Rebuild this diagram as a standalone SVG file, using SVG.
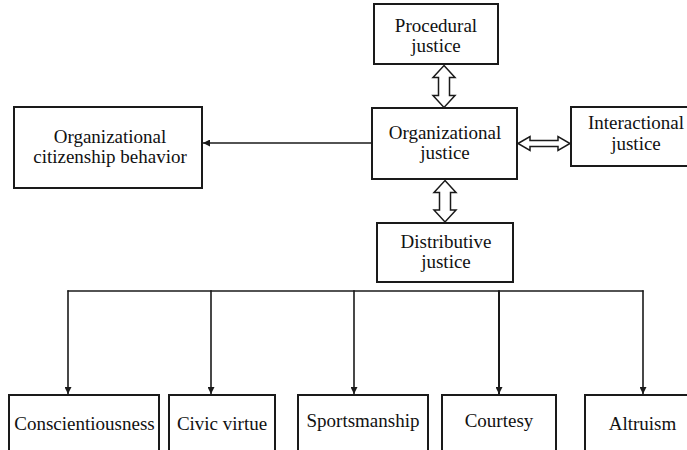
<svg xmlns="http://www.w3.org/2000/svg" width="687" height="450" viewBox="0 0 687 450">
<style>
.box{fill:#fff;stroke:#1a1a1a;stroke-width:2}
.t{font-family:"Liberation Serif","Times New Roman",serif;font-size:19px;fill:#111;text-anchor:middle}
.ln{fill:none;stroke:#1a1a1a;stroke-width:1.6}
.dbl{fill:#fff;stroke:#1a1a1a;stroke-width:1.5;stroke-linejoin:miter}
</style>
<defs>
<marker id="ah" viewBox="0 0 10 10" refX="10" refY="5" markerWidth="7" markerHeight="7" markerUnits="userSpaceOnUse" orient="auto">
<path d="M0,0 L10,5 L0,10 Z" fill="#1a1a1a"/>
</marker>
</defs>
<rect width="687" height="450" fill="#fff"/>
<g id="procedural"><rect class="box" x="374" y="4" width="124" height="60"/><text class="t" x="436" y="32">Procedural</text><text class="t" x="436" y="52">justice</text></g>
<g id="orgjustice"><rect class="box" x="372" y="108" width="145" height="71"/><text class="t" x="445" y="139">Organizational</text><text class="t" x="445" y="159">justice</text></g>
<g id="interactional"><rect class="box" x="571" y="107" width="130" height="59"/><text class="t" x="636" y="129">Interactional</text><text class="t" x="636" y="150">justice</text></g>
<g id="distributive"><rect class="box" x="377" y="223" width="136" height="59"/><text class="t" x="446" y="248">Distributive</text><text class="t" x="446" y="268">justice</text></g>
<g id="ocb"><rect class="box" x="14" y="107" width="188" height="81"/><text class="t" x="110" y="143">Organizational</text><text class="t" x="110" y="163">citizenship behavior</text></g>
<g id="conscientiousness"><rect class="box" x="9" y="395" width="150" height="70"/><text class="t" x="84.5" y="430">Conscientiousness</text></g>
<g id="civicvirtue"><rect class="box" x="169" y="395" width="106" height="70"/><text class="t" x="222" y="430">Civic virtue</text></g>
<g id="sportsmanship"><rect class="box" x="298" y="395" width="130" height="70"/><text class="t" x="363" y="427">Sportsmanship</text></g>
<g id="courtesy"><rect class="box" x="442" y="395" width="114" height="70"/><text class="t" x="499" y="427">Courtesy</text></g>
<g id="altruism"><rect class="box" x="585" y="395" width="115" height="70"/><text class="t" x="642.5" y="430">Altruism</text></g>
<g id="connectors">
<path class="dbl" d="M444,65.5 L455,77.5 L449.5,77.5 L449.5,95.5 L455,95.5 L444,107.5 L433,95.5 L438.5,95.5 L438.5,77.5 L433,77.5 Z"/>
<path class="dbl" d="M445,180.5 L456,192.5 L450.5,192.5 L450.5,210 L456,210 L445,222 L434,210 L439.5,210 L439.5,192.5 L434,192.5 Z"/>
<path class="dbl" d="M518,143.5 L530,136.5 L530,140.5 L558,140.5 L558,136.5 L570,143.5 L558,150.5 L558,146.5 L530,146.5 L530,150.5 Z"/>
<line class="ln" x1="372" y1="143" x2="203" y2="143" marker-end="url(#ah)"/>
<line class="ln" x1="67.5" y1="291" x2="643.5" y2="291"/>
<line class="ln" x1="68" y1="290.2" x2="68" y2="394" marker-end="url(#ah)"/>
<line class="ln" x1="211" y1="290.2" x2="211" y2="394" marker-end="url(#ah)"/>
<line class="ln" x1="354" y1="290.2" x2="354" y2="394" marker-end="url(#ah)"/>
<line class="ln" x1="499" y1="290.2" x2="499" y2="394" marker-end="url(#ah)" style="stroke-width:2"/>
<line class="ln" x1="643" y1="290.2" x2="643" y2="394" marker-end="url(#ah)"/>
</g>
</svg>
